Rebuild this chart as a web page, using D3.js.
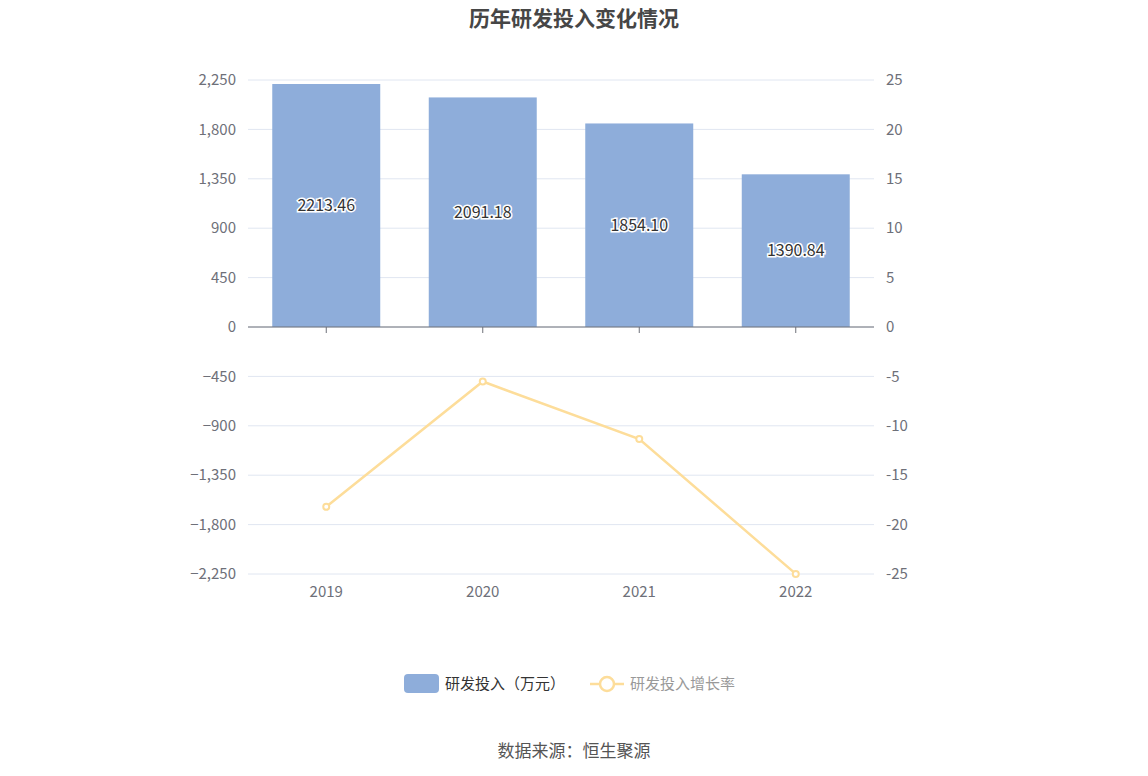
<!DOCTYPE html>
<html><head><meta charset="utf-8">
<script src="https://cdn.jsdelivr.net/npm/d3@7"></script>
<style>body{margin:0;background:#fff;font-family:"Noto Sans CJK SC","Noto Sans",sans-serif}</style>
</head><body><svg id="chart" width="1148" height="776"></svg>
<script>
var years=["2019","2020","2021","2022"];
var rdSpend=[2213.46,2091.18,1854.10,1390.84];
var rdGrowth=[-18.2,-5.52,-11.34,-24.99];
var leftTicks=[-2250,-1800,-1350,-900,-450,0,450,900,1350,1800,2250];
var rightTicks=[-25,-20,-15,-10,-5,0,5,10,15,20,25];

var svg=d3.select("#chart");
var plotLeft=248,plotRight=874,plotTop=80,plotBottom=574;

var x=d3.scaleBand().domain(years).range([plotLeft,plotRight]).paddingInner(0.31).paddingOuter(0.155);
var yL=d3.scaleLinear().domain([-2250,2250]).range([plotBottom,plotTop]);
var yR=d3.scaleLinear().domain([-25,25]).range([plotBottom,plotTop]);

// grid
svg.append("g").selectAll("line").data(leftTicks).enter().append("line")
	.attr("x1",plotLeft).attr("x2",plotRight)
	.attr("y1",function(d){return yL(d);}).attr("y2",function(d){return yL(d);})
	.attr("stroke","#e0e6f1");

// axes labels
svg.append("g").selectAll("text").data(leftTicks).enter().append("text")
	.attr("x",plotLeft-12).attr("y",function(d){return yL(d);}).attr("dy","0.35em")
	.attr("text-anchor","end").attr("font-size",15).attr("fill","#6e7079")
	.text(function(d){return d3.format(",")(d);});
svg.append("g").selectAll("text").data(rightTicks).enter().append("text")
	.attr("x",plotRight+12).attr("y",function(d){return yR(d);}).attr("dy","0.35em")
	.attr("font-size",15).attr("fill","#6e7079")
	.text(function(d){return d;});

// bars
svg.append("g").selectAll("rect").data(rdSpend).enter().append("rect")
	.attr("x",function(d,i){return x(years[i]);})
	.attr("width",x.bandwidth())
	.attr("y",function(d){return yL(d);})
	.attr("height",function(d){return yL(0)-yL(d);})
	.attr("fill","#8eadda");

// zero axis
svg.append("line").attr("x1",plotLeft).attr("x2",plotRight).attr("y1",yL(0)).attr("y2",yL(0)).attr("stroke","#6e7079");
svg.append("g").selectAll("line").data(years).enter().append("line")
	.attr("x1",function(d){return x(d)+x.bandwidth()/2;}).attr("x2",function(d){return x(d)+x.bandwidth()/2;})
	.attr("y1",yL(0)).attr("y2",yL(0)+6).attr("stroke","#6e7079");

// bar labels
svg.append("g").selectAll("text").data(rdSpend).enter().append("text")
	.attr("x",function(d,i){return x(years[i])+x.bandwidth()/2;})
	.attr("y",function(d){return yL(d/2);}).attr("dy","0.35em")
	.attr("text-anchor","middle").attr("font-size",16).attr("fill","#333")
	.attr("stroke","#fff").attr("stroke-width",3).attr("paint-order","stroke")
	.text(function(d){return d.toFixed(2);});

// x labels
svg.append("g").selectAll("text").data(years).enter().append("text")
	.attr("x",function(d){return x(d)+x.bandwidth()/2;}).attr("y",plotBottom+23)
	.attr("text-anchor","middle").attr("font-size",15).attr("fill","#6e7079")
	.text(function(d){return d;});

// growth line
var line=d3.line().x(function(d,i){return x(years[i])+x.bandwidth()/2;}).y(function(d){return yR(d);});
svg.append("path").datum(rdGrowth).attr("d",line).attr("fill","none").attr("stroke","#fddd9a").attr("stroke-width",2.5);
svg.append("g").selectAll("circle").data(rdGrowth).enter().append("circle")
	.attr("cx",function(d,i){return x(years[i])+x.bandwidth()/2;}).attr("cy",function(d){return yR(d);})
	.attr("r",3).attr("fill","#fff").attr("stroke","#fddd9a").attr("stroke-width",2);

// title
svg.append("text").attr("x",574).attr("y",26).attr("text-anchor","middle")
	.attr("font-size",21).attr("font-weight","bold").attr("fill","#464646").text("历年研发投入变化情况");

// legend
svg.append("rect").attr("x",404).attr("y",674).attr("width",35).attr("height",19).attr("rx",4).attr("fill","#8eadda");
svg.append("text").attr("x",445).attr("y",689).attr("font-size",15).attr("fill","#333").text("研发投入（万元）");
svg.append("line").attr("x1",590).attr("x2",624).attr("y1",684).attr("y2",684).attr("stroke","#fddd9a").attr("stroke-width",2.5);
svg.append("circle").attr("cx",607).attr("cy",684).attr("r",7).attr("fill","#fff").attr("stroke","#fddd9a").attr("stroke-width",2.5);
svg.append("text").attr("x",630).attr("y",689).attr("font-size",15).attr("fill","#999").text("研发投入增长率");

// source
svg.append("text").attr("x",574).attr("y",757).attr("text-anchor","middle")
	.attr("font-size",17).attr("fill","#555").text("数据来源：恒生聚源");
</script></body></html>
